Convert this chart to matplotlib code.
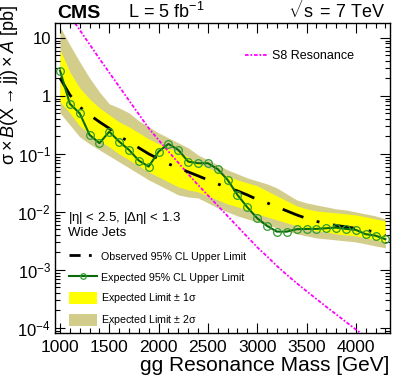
import numpy as np
import matplotlib
matplotlib.use("Agg")
from matplotlib import pyplot as plt
from matplotlib.lines import Line2D
from matplotlib.patches import Patch
from matplotlib.ticker import FixedLocator, LogLocator, NullFormatter, FuncFormatter

plt.rcParams['font.family'] = ['Liberation Sans', 'DejaVu Sans']
plt.rcParams['mathtext.fontset'] = 'custom'
plt.rcParams['mathtext.rm'] = 'Liberation Sans'
plt.rcParams['mathtext.it'] = 'Liberation Sans:italic'

# resonance mass points [GeV]
mass = [1000, 1100, 1200, 1300, 1400, 1500, 1600, 1700, 1800, 1900,
        2000, 2100, 2200, 2300, 2400, 2500, 2600, 2700, 2800, 2900,
        3000, 3100, 3200, 3300, 3400, 3500, 3600, 3700, 3800, 3900,
        4000, 4100, 4200, 4300]

# green curve (labelled "Expected 95% CL Upper Limit" in the legend)
limit_green = [2.73, 0.73, 0.50, 0.213, 0.153, 0.242, 0.163, 0.117, 0.0766, 0.0604,
               0.1096, 0.1486, 0.117, 0.0736, 0.069, 0.069, 0.0545, 0.0356, 0.0196, 0.0120,
               0.00778, 0.00574, 0.00457, 0.00457, 0.00503, 0.00509, 0.00509, 0.00523, 0.00536, 0.00509,
               0.00490, 0.00413, 0.00390, 0.00338]

# black dash-dot curve (labelled "Observed 95% CL Upper Limit")
limit_black = [2.04, 1.04, 0.646, 0.470, 0.356, 0.275, 0.204, 0.161, 0.127, 0.100,
               0.082, 0.0672, 0.0574, 0.0489, 0.0418, 0.0356, 0.0304, 0.0259, 0.0230, 0.0196,
               0.0164, 0.0143, 0.0122, 0.0104, 0.00888, 0.00773, 0.00686, 0.00633, 0.00585, 0.00551,
               0.00519, 0.00489, 0.00443, 0.00393]

band2_hi = [15.5, 7.57, 3.86, 2.04, 1.17, 0.728, 0.621, 0.509, 0.371, 0.292,
            0.230, 0.189, 0.155, 0.127, 0.0961, 0.0788, 0.0646, 0.0530, 0.0452, 0.0386,
            0.0342, 0.0304, 0.0259, 0.0204, 0.0161, 0.0143, 0.0132, 0.0122, 0.0113, 0.0108,
            0.0100, 0.00924, 0.00853, 0.00757]
band1_hi = [6.21, 2.59, 1.37, 0.888, 0.621, 0.470, 0.356, 0.292, 0.230, 0.181,
            0.149, 0.127, 0.108, 0.0888, 0.0700, 0.0574, 0.0489, 0.0418, 0.0356, 0.0316,
            0.0281, 0.0230, 0.0189, 0.0155, 0.0127, 0.0113, 0.0104, 0.0100, 0.00961, 0.00924,
            0.00888, 0.00820, 0.00757, 0.00700]
band1_lo = [0.788, 0.509, 0.304, 0.221, 0.168, 0.132, 0.100, 0.0788, 0.0621, 0.0489,
            0.0401, 0.0329, 0.0270, 0.0240, 0.0221, 0.0189, 0.0161, 0.0137, 0.0122, 0.0108,
            0.00924, 0.00820, 0.00728, 0.00646, 0.00574, 0.00509, 0.00470, 0.00452, 0.00418, 0.00401,
            0.00386, 0.00356, 0.00329, 0.00304]
band2_lo = [0.509, 0.316, 0.196, 0.149, 0.117, 0.0924, 0.0728, 0.0574, 0.0452, 0.0356,
            0.0292, 0.0240, 0.0196, 0.0181, 0.0174, 0.0143, 0.0117, 0.0100, 0.00853, 0.00757,
            0.00672, 0.00597, 0.00530, 0.00470, 0.00418, 0.00386, 0.00356, 0.00342, 0.00329, 0.00316,
            0.00304, 0.00281, 0.00259, 0.00240]

# S8 resonance cross section
s8_mass = [1100, 1200, 1300, 1400, 1500, 1600, 1700, 1800, 1900, 2000,
           2100, 2200, 2300, 2400, 2500, 2600, 2700, 2800, 2900, 3000,
           3100, 3200, 3300, 3400, 3500, 3600, 3700, 3800, 3900, 4000, 4100]
s8_xsec = [24.0, 13.7, 7.73, 4.38, 2.51, 1.45, 0.833, 0.480, 0.277, 0.173,
           0.110, 0.0703, 0.0449, 0.0291, 0.0193, 0.0128, 0.00847, 0.00560, 0.00372, 0.00246,
           0.00171, 0.00117, 0.000826, 0.000592, 0.000431, 0.000316, 0.000232, 0.000172, 0.000127,
           9.42e-5, 7.0e-5]

yellow = '#ffff00'
khaki = '#d3cd8b'

fig = plt.figure(figsize=(3.99, 3.84), dpi=100)
ax = fig.add_axes([0.138, 0.133, 0.839, 0.807])

ax.fill_between(mass, band2_lo, band2_hi, color=khaki, lw=0)
ax.fill_between(mass, band1_lo, band1_hi, color=yellow, lw=0)
ax.plot(s8_mass, s8_xsec, color='#ff00ff', lw=1.3, ls=(0, (2, 1, 1, 1)))
ax.plot(mass, limit_black, color='black', lw=2.0, ls=(0, (8, 5, 1, 5)))
ax.plot(mass, limit_green, color='#0a6a0a', lw=1.5, marker='o', ms=5.5,
        mfc='none', mec='#2f9a2f', mew=0.9)

ax.set_yscale('log')
ax.set_xlim(950, 4345)
ax.set_ylim(8.2e-5, 18)

ax.xaxis.set_major_locator(FixedLocator([1000, 1500, 2000, 2500, 3000, 3500, 4000]))
ax.xaxis.set_minor_locator(FixedLocator(np.arange(1000, 4400, 100)))
ax.yaxis.set_major_locator(LogLocator(base=10, numticks=20))
ax.yaxis.set_minor_locator(LogLocator(base=10, subs=np.arange(2, 10), numticks=20))
ax.yaxis.set_minor_formatter(NullFormatter())


def yfmt(v, pos):
    e = int(round(np.log10(v)))
    if e == 0:
        return '1'
    if e == 1:
        return '10'
    return r'$\mathregular{10^{%d}}$' % e


ax.yaxis.set_major_formatter(FuncFormatter(yfmt))
ax.tick_params(which='both', direction='in', top=True, right=True, labelsize=12.5)
ax.tick_params(axis='y', labelsize=12, pad=3)
ax.tick_params(which='major', length=7, width=0.8)
ax.tick_params(which='minor', length=3.5, width=0.8)
ax.tick_params(axis='x', pad=5)
for s in ax.spines.values():
    s.set_linewidth(1.0)

ax.set_xlabel('gg Resonance Mass [GeV]', fontsize=15, loc='right', labelpad=1)
ax.set_ylabel(r'$\mathregular{\sigma\times}\mathit{B}\mathregular{(X\rightarrow jj)\times}\mathit{A}$ [pb]',
              fontsize=13, loc='top')
ax.yaxis.set_label_coords(-0.106, 1.058)

fig.text(0.143, 0.953, 'CMS', fontsize=14, fontweight='bold', va='baseline')
fig.text(0.32, 0.953, r'L = 5 fb$\mathregular{^{-1}}$', fontsize=13, va='baseline')
fig.text(0.965, 0.953, r'$\mathregular{\sqrt{s}}$ = 7 TeV', fontsize=13, va='baseline', ha='right')

ax.text(0.039, 0.371, r'|$\mathregular{\eta}$| < 2.5, |$\mathregular{\Delta\eta}$| < 1.3',
        transform=ax.transAxes, fontsize=9.5, va='center')
ax.text(0.039, 0.321, 'Wide Jets', transform=ax.transAxes, fontsize=9.5, va='center')

h_obs = Line2D([], [], color='black', lw=2.0, ls=(0, (4, 3, 1, 3)))
h_exp = Line2D([], [], color='#0a6a0a', lw=1.5, marker='o', ms=4, mfc='none',
               mec='#2f9a2f', mew=0.9)
h_1s = Patch(facecolor=yellow, edgecolor='none')
h_2s = Patch(facecolor=khaki, edgecolor='none')
leg = ax.legend([h_obs, h_exp, h_1s, h_2s],
                ['Observed 95% CL Upper Limit', 'Expected 95% CL Upper Limit',
                 r'Expected Limit $\mathregular{\pm}$ 1$\mathregular{\sigma}$',
                 r'Expected Limit $\mathregular{\pm}$ 2$\mathregular{\sigma}$'],
                loc='upper left', bbox_to_anchor=(0.02, 0.29), frameon=False,
                fontsize=7.7, handlelength=2.6, handleheight=1.4, handletextpad=0.4,
                labelspacing=0.75, borderpad=0.2)
ax.add_artist(leg)

h_s8 = Line2D([], [], color='#ff00ff', lw=1.3, ls=(0, (2, 1, 1, 1)))
ax.legend([h_s8], ['S8 Resonance'], loc='upper left', bbox_to_anchor=(0.54, 0.94),
          frameon=False, fontsize=9, handlelength=1.8, handletextpad=0.4, borderpad=0.2)

fig.savefig('out.png', dpi=100)
